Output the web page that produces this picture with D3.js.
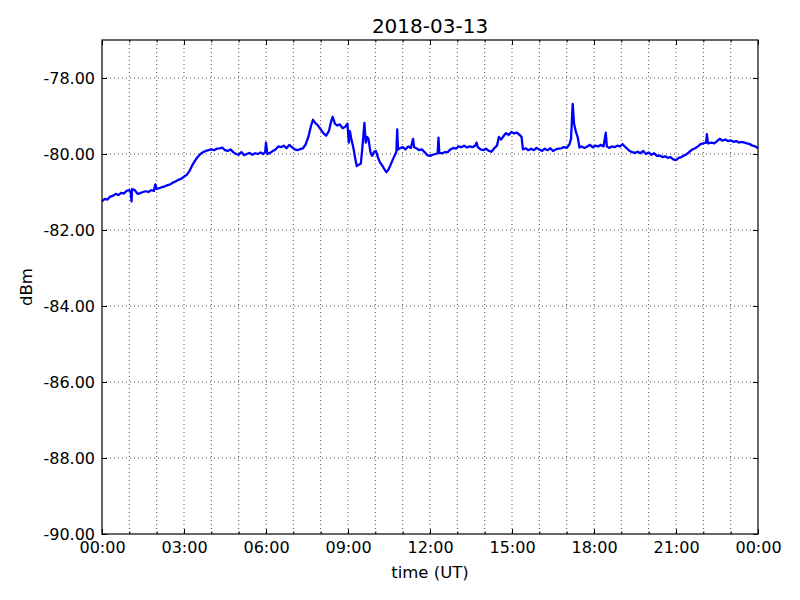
<!DOCTYPE html>
<html><head><meta charset="utf-8">
<script src="https://cdn.jsdelivr.net/npm/d3@7"></script>
<style>body{margin:0;background:#fff}svg{display:block;font-family:"DejaVu Sans",sans-serif}</style>
</head><body><svg id="c" width="800" height="600"></svg>
<script>
const title = "2018-03-13";
const xLabel = "time (UT)";
const yLabel = "dBm";
const xTickHours = [0,3,6,9,12,15,18,21,24];
const xTickLabels = ["00:00","03:00","06:00","09:00","12:00","15:00","18:00","21:00","00:00"];
const yTicks = [-90,-88,-86,-84,-82,-80,-78];
const hours = [0.00,0.10,0.20,0.30,0.40,0.50,0.60,0.70,0.80,0.90,1.00,1.05,1.08,1.10,1.20,1.30,1.40,1.50,1.60,1.70,1.80,1.90,1.95,2.00,2.10,2.20,2.30,2.40,2.50,2.60,2.70,2.80,2.90,3.00,3.10,3.20,3.30,3.40,3.50,3.60,3.70,3.80,3.90,4.00,4.10,4.20,4.30,4.40,4.50,4.60,4.70,4.80,4.90,5.00,5.10,5.20,5.30,5.40,5.50,5.60,5.70,5.80,5.90,5.97,6.00,6.05,6.15,6.25,6.35,6.45,6.55,6.65,6.75,6.85,6.95,7.05,7.15,7.25,7.35,7.45,7.55,7.65,7.72,7.80,7.90,8.00,8.10,8.20,8.30,8.38,8.44,8.52,8.60,8.70,8.80,8.90,8.98,9.03,9.07,9.12,9.20,9.26,9.32,9.40,9.47,9.53,9.60,9.65,9.70,9.75,9.82,9.88,9.95,10.02,10.10,10.17,10.25,10.33,10.40,10.47,10.55,10.62,10.70,10.77,10.80,10.83,10.90,11.00,11.10,11.20,11.30,11.38,11.42,11.50,11.60,11.70,11.80,11.90,12.00,12.10,12.20,12.28,12.31,12.34,12.45,12.55,12.65,12.75,12.85,12.95,13.05,13.15,13.25,13.35,13.45,13.55,13.65,13.70,13.75,13.85,13.95,14.05,14.15,14.25,14.35,14.45,14.52,14.60,14.70,14.78,14.88,14.98,15.08,15.18,15.28,15.35,15.40,15.50,15.60,15.70,15.80,15.90,16.00,16.10,16.20,16.30,16.40,16.50,16.60,16.70,16.80,16.90,17.00,17.10,17.16,17.22,17.27,17.33,17.40,17.47,17.55,17.65,17.75,17.85,17.95,18.05,18.15,18.25,18.35,18.43,18.47,18.55,18.65,18.75,18.85,18.95,19.05,19.12,19.20,19.30,19.40,19.50,19.60,19.70,19.80,19.90,20.00,20.10,20.20,20.30,20.40,20.50,20.60,20.70,20.80,20.90,21.00,21.10,21.20,21.30,21.40,21.50,21.60,21.70,21.80,21.90,22.00,22.10,22.13,22.17,22.30,22.40,22.50,22.60,22.70,22.80,22.90,23.00,23.10,23.20,23.30,23.40,23.50,23.60,23.70,23.80,23.90,24.00];
const dbm = [-81.25,-81.18,-81.20,-81.12,-81.10,-81.05,-81.08,-81.02,-81.04,-80.97,-80.95,-81.00,-81.25,-80.92,-80.95,-81.05,-81.03,-81.00,-80.98,-81.00,-80.95,-80.97,-80.80,-80.92,-80.90,-80.87,-80.85,-80.82,-80.80,-80.75,-80.72,-80.68,-80.65,-80.60,-80.55,-80.45,-80.30,-80.18,-80.08,-80.00,-79.95,-79.92,-79.90,-79.88,-79.90,-79.86,-79.85,-79.83,-79.90,-79.92,-79.88,-79.95,-80.00,-80.02,-79.95,-80.03,-80.00,-79.97,-80.02,-79.98,-80.00,-79.96,-80.00,-79.95,-79.70,-80.00,-79.97,-79.92,-79.88,-79.80,-79.82,-79.78,-79.85,-79.76,-79.82,-79.88,-79.90,-79.87,-79.85,-79.75,-79.55,-79.25,-79.10,-79.18,-79.25,-79.35,-79.45,-79.52,-79.40,-79.15,-79.02,-79.20,-79.25,-79.22,-79.32,-79.28,-79.20,-79.70,-79.40,-79.60,-79.85,-80.10,-80.32,-80.28,-80.25,-79.80,-79.18,-79.70,-79.55,-79.60,-79.95,-80.05,-79.95,-79.92,-80.10,-80.22,-80.30,-80.40,-80.48,-80.42,-80.30,-80.18,-80.05,-79.95,-79.35,-79.88,-79.85,-79.82,-79.88,-79.80,-79.84,-79.60,-79.82,-79.85,-79.90,-79.88,-79.95,-80.03,-80.05,-80.02,-80.00,-79.98,-79.57,-79.97,-79.98,-79.95,-79.95,-79.88,-79.84,-79.86,-79.80,-79.82,-79.78,-79.83,-79.80,-79.82,-79.78,-79.70,-79.82,-79.88,-79.90,-79.86,-79.92,-79.94,-79.85,-79.78,-79.55,-79.62,-79.52,-79.45,-79.50,-79.42,-79.46,-79.44,-79.50,-79.55,-79.88,-79.85,-79.90,-79.86,-79.90,-79.84,-79.88,-79.92,-79.86,-79.90,-79.85,-79.92,-79.88,-79.86,-79.85,-79.82,-79.84,-79.75,-79.60,-78.68,-79.20,-79.40,-79.55,-79.83,-79.80,-79.84,-79.80,-79.76,-79.82,-79.78,-79.80,-79.76,-79.80,-79.44,-79.80,-79.84,-79.80,-79.82,-79.78,-79.80,-79.74,-79.80,-79.85,-79.92,-79.95,-79.97,-79.94,-79.98,-79.92,-80.00,-79.96,-80.02,-79.98,-80.05,-80.04,-80.08,-80.06,-80.10,-80.08,-80.14,-80.16,-80.10,-80.08,-80.04,-80.00,-79.94,-79.88,-79.85,-79.80,-79.74,-79.72,-79.70,-79.48,-79.72,-79.70,-79.72,-79.66,-79.60,-79.65,-79.62,-79.66,-79.64,-79.68,-79.66,-79.70,-79.68,-79.70,-79.72,-79.74,-79.78,-79.80,-79.85];

const svg = d3.select("#c");
const L=102, T=40, R=758, B=534;
const x = d3.scaleLinear().domain([0,24]).range([L,R]);
const y = d3.scaleLinear().domain([-90,-77]).range([B,T]);

svg.append("rect").attr("width",800).attr("height",600).attr("fill","#fff");

// grid
const g = svg.append("g");
g.selectAll("line.vg").data(d3.range(1,24)).join("line")
  .attr("x1",d=>x(d)).attr("x2",d=>x(d)).attr("y1",T).attr("y2",B)
  .attr("stroke","#000").attr("stroke-width",0.7).attr("stroke-dasharray","1,3");
g.selectAll("line.hg").data(yTicks.filter(d=>d>-90)).join("line")
  .attr("x1",L).attr("x2",R).attr("y1",d=>y(d)).attr("y2",d=>y(d))
  .attr("stroke","#000").attr("stroke-width",0.7).attr("stroke-dasharray","1,3");

// line
const data = hours.map((h,i)=>({h, v:dbm[i]}));
svg.append("path").datum(data)
  .attr("d", d3.line().x(d=>x(d.h)).y(d=>y(d.v)))
  .attr("fill","none").attr("stroke","#0000ff").attr("stroke-width",2.3).attr("stroke-linejoin","round");

// axes (inward ticks)
const fmtY = d => d3.format(".2f")(d).replace("\u2212","-");
const xb = d3.axisBottom(x).tickValues(xTickHours).tickFormat((d,i)=>xTickLabels[i]).tickSizeInner(-5).tickSizeOuter(0).tickPadding(8);
const xbMinor = d3.axisBottom(x).tickValues(d3.range(1,24).filter(h=>h%3)).tickFormat("").tickSizeInner(-2.5).tickSizeOuter(0);
const xt = d3.axisTop(x).tickValues(xTickHours).tickFormat("").tickSizeInner(-5).tickSizeOuter(0);
const xtMinor = d3.axisTop(x).tickValues(d3.range(1,24).filter(h=>h%3)).tickFormat("").tickSizeInner(-2.5).tickSizeOuter(0);
const yl = d3.axisLeft(y).tickValues(yTicks).tickFormat(fmtY).tickSizeInner(-5).tickSizeOuter(0).tickPadding(7);
const yr = d3.axisRight(y).tickValues(yTicks).tickFormat("").tickSizeInner(-5).tickSizeOuter(0);

function style(sel){ sel.select(".domain").remove(); sel.selectAll("text").attr("font-size",16).attr("fill","#000").attr("font-family","DejaVu Sans"); sel.selectAll("line").attr("stroke","#000"); }
svg.append("g").attr("transform",`translate(0,${B})`).call(xb).call(style);
svg.append("g").attr("transform",`translate(0,${B})`).call(xbMinor).call(style);
svg.append("g").attr("transform",`translate(0,${T})`).call(xt).call(style);
svg.append("g").attr("transform",`translate(0,${T})`).call(xtMinor).call(style);
svg.append("g").attr("transform",`translate(${L},0)`).call(yl).call(style);
svg.append("g").attr("transform",`translate(${R},0)`).call(yr).call(style);

svg.append("rect").attr("x",L).attr("y",T).attr("width",R-L).attr("height",B-T)
  .attr("fill","none").attr("stroke","#000").attr("stroke-width",1.2);

svg.append("text").attr("x",(L+R)/2).attr("y",33).attr("text-anchor","middle")
  .attr("font-size",20).text(title);
svg.append("text").attr("x",(L+R)/2).attr("y",578).attr("text-anchor","middle")
  .attr("font-size",16.5).text(xLabel);
svg.append("text").attr("transform",`translate(32,${(T+B)/2}) rotate(-90)`).attr("text-anchor","middle")
  .attr("font-size",16.5).text(yLabel);
</script></body></html>
